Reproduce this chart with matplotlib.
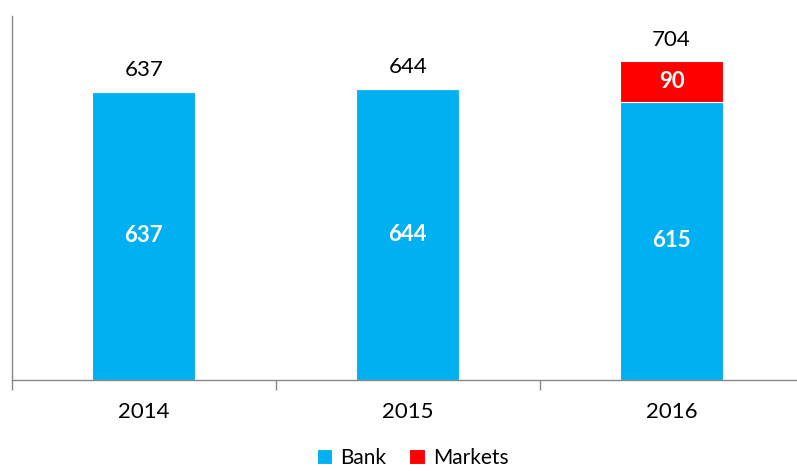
import numpy as np
import matplotlib.pyplot as plt

years = ['2014', '2015', '2016']
bank = [637, 644, 615]
markets = [0, 0, 90]
totals = [637, 644, 704]

plt.rcParams['font.family'] = ['Lato', 'DejaVu Sans']

fig = plt.figure(figsize=(7.97, 4.71), dpi=100)
ax = fig.add_axes([12 / 797, 91 / 471, 791.5 / 797, 364 / 471])

x = np.arange(len(years))
blue = '#00B0F0'
red = '#FF0000'
ax.bar(x, bank, width=0.39, color=blue, edgecolor='white', linewidth=0.8, label='Bank')
ax.bar(x, markets, width=0.39, bottom=bank, color=red, edgecolor='white', linewidth=0.8, label='Markets')

for i in range(len(years)):
    ax.text(x[i], bank[i] / 2, str(bank[i]), ha='center', va='center',
            color='white', fontsize=16, fontweight='bold')
    if markets[i] > 0:
        ax.text(x[i], bank[i] + markets[i] / 2, str(markets[i]), ha='center', va='center',
                color='white', fontsize=16, fontweight='bold')
    ax.text(x[i], totals[i] + 49, str(totals[i]), ha='center', va='center',
            color='black', fontsize=16)

ax.set_xlim(-0.5, 2.5)
ax.set_ylim(0, 805)
ax.set_yticks([])
ax.set_xticks(x)
ax.set_xticklabels(years, fontsize=16)
ax.tick_params(axis='x', length=0, pad=16)
ax.set_xticks([-0.5, 0.5, 1.5, 2.5], minor=True)
ax.tick_params(axis='x', which='minor', length=7, color='#888888', width=1)

for s in ['top', 'right']:
    ax.spines[s].set_visible(False)
for s in ['left', 'bottom']:
    ax.spines[s].set_color('#888888')
    ax.spines[s].set_linewidth(1)

fig.legend(loc='lower center', bbox_to_anchor=(0.518, -0.033), ncol=2, frameon=False,
           fontsize=15, handlelength=0.75, handleheight=0.75, handletextpad=0.4,
           columnspacing=1.1)

fig.savefig('out.png', dpi=100)
